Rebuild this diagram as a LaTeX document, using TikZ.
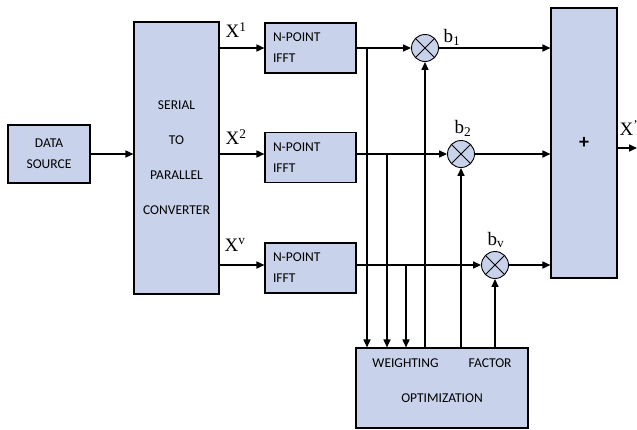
\documentclass[tikz,border=0pt]{standalone}
\usepackage{fontspec}
\setmainfont{Liberation Serif}
\newfontfamily\boxfont{Carlito}
\usetikzlibrary{positioning,arrows.meta,calc}
\definecolor{boxblue}{RGB}{200,210,234}

\begin{document}
\begin{tikzpicture}[x=1pt,y=-1pt,
    blk/.style={draw=black,fill=boxblue,line width=1.1pt,inner sep=0pt,
      font={\boxfont\fontsize{13.5}{21}\selectfont}},
    mult/.style={circle,draw=black,fill=boxblue,line width=0.9pt,
      minimum size=27pt,inner sep=0pt},
    arr/.style={line width=1.6pt,-{Triangle[length=8pt,width=7pt]}},
    lbl/.style={font=\fontsize{19}{20}\selectfont,inner sep=0pt}]
  \useasboundingbox (0,0) rectangle (637,429);
  % blocks
  \node[blk,minimum width=82pt,minimum height=58pt,align=center] (src) at (49,154) {DATA\\SOURCE};
  \node[blk,minimum width=85pt,minimum height=272pt,align=center,
    font={\boxfont\fontsize{13.5}{35}\selectfont}] (s2p) at (176.5,158) {SERIAL\\TO\\PARALLEL\\CONVERTER};
  \foreach \i/\y in {1/48,2/157.5,3/268}
    \node[blk,minimum width=91pt,minimum height=50pt,text width=75pt,align=left] (fft\i) at (310.5,\y) {N-POINT\\IFFT};
  \node[blk,minimum width=66pt,minimum height=270pt,font={\boxfont\bfseries\fontsize{20}{20}\selectfont}] (add) at (584,143) {+};
  \node[blk,minimum width=172pt,minimum height=80pt,align=center,text depth=14pt,
    font={\boxfont\fontsize{13.5}{35}\selectfont}] (opt) at (442,388) {WEIGHTING\hspace{30pt}FACTOR\\OPTIMIZATION};
  % multipliers
  \node[mult] (m1) at (425,48) {};
  \node[mult] (m2) at (461,154) {};
  \node[mult] (m3) at (495,265) {};
  \foreach \m in {m1,m2,m3}
    \draw[line width=0.8pt] (\m.north west) -- (\m.south east) (\m.north east) -- (\m.south west);
  % labels
  \node[lbl] (x1) at (236,30) {X\textsuperscript{1}};
  \node[lbl] (x2) at (236,137) {X\textsuperscript{2}};
  \node[lbl] (xv) at (235,245) {X\textsuperscript{v}};
  \node[lbl] (b1) at (452,37) {b\textsubscript{1}};
  \node[lbl] (b2) at (463,128) {b\textsubscript{2}};
  \node[lbl] (bv) at (496,240) {b\textsubscript{v}};
  \node[lbl] (xo) at (629,128) {X\textsuperscript{'}};
  % connections
  \coordinate (out) at (637,148);
  \coordinate (t1) at (367,48);
  \coordinate (t2) at (387,154);
  \coordinate (t3) at (406,265);
  \draw[arr] (src.east) -- (s2p.west |- src.east);
  \draw[arr] (s2p.east |- m1) -- (fft1.west |- m1);
  \draw[arr] (s2p.east |- m2) -- (fft2.west |- m2);
  \draw[arr] (s2p.east |- m3) -- (fft3.west |- m3);
  \draw[arr] (fft1.east |- m1) -- (m1.west);
  \draw[arr] (fft2.east |- m2) -- (m2.west);
  \draw[arr] (fft3.east |- m3) -- (m3.west);
  \draw[arr] (m1.east) -- (add.west |- m1);
  \draw[arr] (m2.east) -- (add.west |- m2);
  \draw[arr] (m3.east) -- (add.west |- m3);
  \draw[arr] (add.east |- out) -- (out);
  \draw[arr] (t1) -- (t1 |- opt.north);
  \draw[arr] (t2) -- (t2 |- opt.north);
  \draw[arr] (t3) -- (t3 |- opt.north);
  \draw[arr] (opt.north -| m1.south) -- (m1.south);
  \draw[arr] (opt.north -| m2.south) -- (m2.south);
  \draw[arr] (opt.north -| m3.south) -- (m3.south);
\end{tikzpicture}
\end{document}
